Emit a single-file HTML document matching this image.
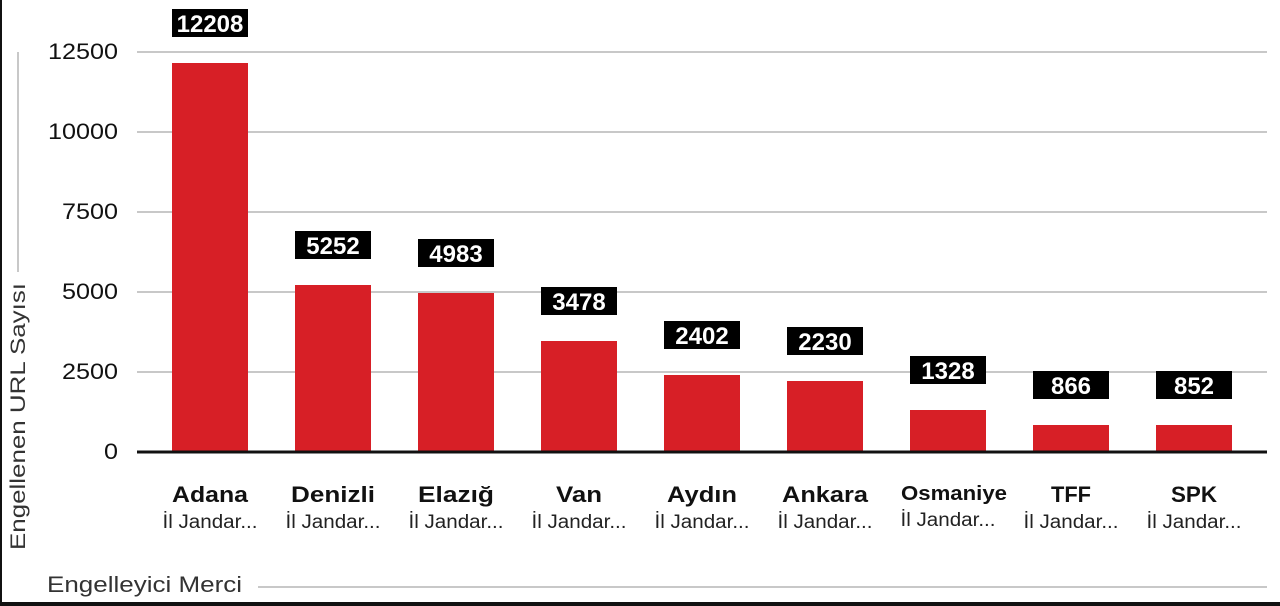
<!DOCTYPE html>
<html><head><meta charset="utf-8"><style>
html,body{margin:0;padding:0;background:#fff;}
svg{display:block;font-family:"Liberation Sans",sans-serif;}
</style></head><body>
<svg width="1280" height="606" viewBox="0 0 1280 606" xmlns="http://www.w3.org/2000/svg">
<rect x="0" y="0" width="1280" height="606" fill="#fff"/>
<rect x="0" y="0" width="2" height="606" fill="#111"/>
<rect x="0" y="602" width="1280" height="4" fill="#111"/>
<g stroke="#c8c8c8" stroke-width="2">
<line x1="137" y1="52" x2="1267" y2="52"/>
<line x1="137" y1="132" x2="1267" y2="132"/>
<line x1="137" y1="212" x2="1267" y2="212"/>
<line x1="137" y1="292" x2="1267" y2="292"/>
<line x1="137" y1="372" x2="1267" y2="372"/>
<line x1="18" y1="52" x2="18" y2="272"/>
<line x1="258" y1="587" x2="1267" y2="587"/>
</g>
<g font-size="22" fill="#111" text-anchor="end" lengthAdjust="spacingAndGlyphs">
<text x="118" y="59" textLength="70" lengthAdjust="spacingAndGlyphs">12500</text>
<text x="118" y="139" textLength="70" lengthAdjust="spacingAndGlyphs">10000</text>
<text x="118" y="219" textLength="56" lengthAdjust="spacingAndGlyphs">7500</text>
<text x="118" y="299" textLength="56" lengthAdjust="spacingAndGlyphs">5000</text>
<text x="118" y="379" textLength="56" lengthAdjust="spacingAndGlyphs">2500</text>
<text x="118" y="459" textLength="14" lengthAdjust="spacingAndGlyphs">0</text>
</g>
<text transform="translate(25,550) rotate(-90)" font-size="21" fill="#333" textLength="267" lengthAdjust="spacingAndGlyphs">Engellenen URL Sayısı</text>
<text x="47" y="592" font-size="22" fill="#333" textLength="195" lengthAdjust="spacingAndGlyphs">Engelleyici Merci</text>
<g fill="#d71f26">
<rect x="172" y="63" width="76" height="389"/>
<rect x="295" y="285" width="76" height="167"/>
<rect x="418" y="293" width="76" height="159"/>
<rect x="541" y="341" width="76" height="111"/>
<rect x="664" y="375" width="76" height="77"/>
<rect x="787" y="381" width="76" height="71"/>
<rect x="910" y="410" width="76" height="42"/>
<rect x="1033" y="425" width="76" height="27"/>
<rect x="1156" y="425" width="76" height="27"/>
</g>
<line x1="137" y1="452" x2="1267" y2="452" stroke="#111" stroke-width="3"/>
<g fill="#000">
<rect x="172" y="9" width="76" height="28"/>
<rect x="295" y="231" width="76" height="28"/>
<rect x="418" y="239" width="76" height="28"/>
<rect x="541" y="287" width="76" height="28"/>
<rect x="664" y="321" width="76" height="28"/>
<rect x="787" y="327" width="76" height="28"/>
<rect x="910" y="356" width="76" height="28"/>
<rect x="1033" y="371" width="76" height="28"/>
<rect x="1156" y="371" width="76" height="28"/>
</g>
<g fill="#fff" font-size="24" font-weight="bold" text-anchor="middle">
<text x="210" y="32">12208</text>
<text x="333" y="254">5252</text>
<text x="456" y="262">4983</text>
<text x="579" y="310">3478</text>
<text x="702" y="344">2402</text>
<text x="825" y="350">2230</text>
<text x="948" y="379">1328</text>
<text x="1071" y="394">866</text>
<text x="1194" y="394">852</text>
</g>
<g fill="#111" font-size="22" font-weight="bold" text-anchor="middle">
<text x="210" y="502" textLength="76" lengthAdjust="spacingAndGlyphs">Adana</text>
<text x="333" y="502" textLength="84" lengthAdjust="spacingAndGlyphs">Denizli</text>
<text x="456" y="502" textLength="76" lengthAdjust="spacingAndGlyphs">Elazığ</text>
<text x="579" y="502" textLength="46" lengthAdjust="spacingAndGlyphs">Van</text>
<text x="702" y="502" textLength="70" lengthAdjust="spacingAndGlyphs">Aydın</text>
<text x="825" y="502" textLength="86" lengthAdjust="spacingAndGlyphs">Ankara</text>
<text x="954" y="500" font-size="20" textLength="106" lengthAdjust="spacingAndGlyphs">Osmaniye</text>
<text x="1071" y="502" textLength="40" lengthAdjust="spacingAndGlyphs">TFF</text>
<text x="1194" y="502" textLength="46" lengthAdjust="spacingAndGlyphs">SPK</text>
</g>
<g fill="#222" font-size="19" text-anchor="middle">
<text x="210" y="528" textLength="95" lengthAdjust="spacingAndGlyphs">İl Jandar...</text>
<text x="333" y="528" textLength="95" lengthAdjust="spacingAndGlyphs">İl Jandar...</text>
<text x="456" y="528" textLength="95" lengthAdjust="spacingAndGlyphs">İl Jandar...</text>
<text x="579" y="528" textLength="95" lengthAdjust="spacingAndGlyphs">İl Jandar...</text>
<text x="702" y="528" textLength="95" lengthAdjust="spacingAndGlyphs">İl Jandar...</text>
<text x="825" y="528" textLength="95" lengthAdjust="spacingAndGlyphs">İl Jandar...</text>
<text x="948" y="526" textLength="95" lengthAdjust="spacingAndGlyphs">İl Jandar...</text>
<text x="1071" y="528" textLength="95" lengthAdjust="spacingAndGlyphs">İl Jandar...</text>
<text x="1194" y="528" textLength="95" lengthAdjust="spacingAndGlyphs">İl Jandar...</text>
</g>
</svg>
</body></html>
